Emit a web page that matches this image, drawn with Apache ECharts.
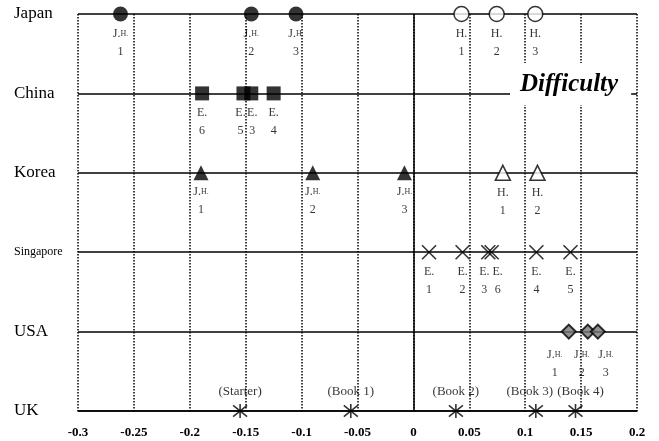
<!DOCTYPE html>
<html><head><meta charset="utf-8">
<script src="https://cdn.jsdelivr.net/npm/echarts@6/dist/echarts.min.js"></script>
<style>html,body{margin:0;padding:0;background:#fff}#c{width:659px;height:441px}</style>
</head><body><div id="c"></div>
<script>
// ---- data ----
const categories = ['UK', 'USA', 'Singapore', 'Korea', 'China', 'Japan'];
const xTicks = { min: -0.3, max: 0.2, interval: 0.05 };

const japanJH = [-0.262, -0.145, -0.105];
const japanJHNums = ['1', '2', '3'];
const japanH = [0.043, 0.0745, 0.109];
const japanHNums = ['1', '2', '3'];

const chinaE = [-0.189, -0.152, -0.145, -0.125];
const chinaENums = ['6', '5', '3', '4'];

const koreaJH = [-0.190, -0.090, -0.008];
const koreaJHNums = ['1', '2', '3'];
const koreaH = [0.080, 0.111];
const koreaHNums = ['1', '2'];

const singaporeE = [0.014, 0.044, 0.067, 0.070, 0.110, 0.1405];
const singaporeENums = ['1', '2', '3', '6', '4', '5'];

const usaJH = [0.139, 0.156, 0.165];
const usaJHNums = ['1', '2', '3'];

const ukBooks = [-0.155, -0.056, 0.038, 0.1095, 0.145];
const ukBookNames = ['(Starter)', '(Book 1)', '(Book 2)', '(Book 3)', '(Book 4)'];

// ---- styling (label nudges for crowded marks) ----
const chinaLabelNudge = [0, -3, 1, 0];
const singaporeLabelNudge = [0, 0, -4, 6, 0, 0];
const usaLabelNudge = [-14, -6, 8];
const ukLabelNudge = [0, 0, 0, -6, 5];

const SERIF = "'Liberation Serif','Times New Roman',serif";
const rich = {
  a: { fontFamily: SERIF, fontSize: 12, color: '#000', lineHeight: 18 },
  b: { fontFamily: SERIF, fontSize: 8, color: '#000', lineHeight: 18 }
};

function build(row, xs, nums, prefix, nudge) {
  return xs.map((x, i) => {
    const item = { value: [x, row], num: nums[i] };
    if (nudge && nudge[i]) item.label = { offset: [nudge[i], 0] };
    return item;
  });
}
function fmt(prefix) {
  return function (p) {
    const n = p.data.num;
    if (prefix === 'J.H.') return '{a|J.}{b|H.}\n{a|' + n + '}';
    return '{a|' + prefix + '}\n{a|' + n + '}';
  };
}
function scatter(name, data, symbol, size, itemStyle, prefix, extra) {
  return Object.assign({
    name: name, type: 'scatter', data: data, symbol: symbol, symbolSize: size,
    itemStyle: itemStyle, z: 5,
    label: { show: true, position: 'bottom', distance: 3, formatter: fmt(prefix), rich: rich, align: 'center' },
    emphasis: { disabled: true }
  }, extra || {});
}

const filled = { color: '#000' };
const open = { color: '#fff', borderColor: '#000', borderWidth: 1.5 };
const stroke = { color: 'rgba(0,0,0,0)', borderColor: '#000', borderWidth: 1.6 };

const series = [
  scatter('Japan J.H.', build('Japan', japanJH, japanJHNums), 'circle', 15, filled, 'J.H.', {
    markLine: {
      silent: true, symbol: 'none', label: { show: false },
      lineStyle: { type: 'solid', color: '#000', width: 1.5 },
      data: [{ xAxis: 0 }]
    }
  }),
  scatter('Japan H.', build('Japan', japanH, japanHNums), 'circle', 15, open, 'H.'),
  scatter('China E.', build('China', chinaE, chinaENums, 'E.', chinaLabelNudge), 'rect', 14, filled, 'E.'),
  scatter('Korea J.H.', build('Korea', koreaJH, koreaJHNums), 'triangle', 15, filled, 'J.H.'),
  scatter('Korea H.', build('Korea', koreaH, koreaHNums), 'triangle', 15, open, 'H.'),
  scatter('Singapore E.', build('Singapore', singaporeE, singaporeENums, 'E.', singaporeLabelNudge),
    'path://M0,0L10,10M10,0L0,10', 14, stroke, 'E.'),
  scatter('USA J.H.', build('USA', usaJH, usaJHNums, 'J.H.', usaLabelNudge), 'diamond', 14,
    { color: '#777', borderColor: '#000', borderWidth: 2 }, 'J.H.', {
      label: { show: true, position: 'bottom', distance: 6, formatter: fmt('J.H.'), rich: rich, align: 'center' }
    }),
  {
    name: 'UK', type: 'scatter', z: 5,
    data: ukBooks.map((x, i) => {
      const item = { value: [x, 'UK'], name: ukBookNames[i] };
      if (ukLabelNudge[i]) item.label = { offset: [ukLabelNudge[i], 0] };
      return item;
    }),
    symbol: 'path://M0,1L10,9M10,1L0,9M5,0L5,10', symbolSize: 14, itemStyle: stroke,
    label: { show: true, position: 'top', distance: 5, formatter: p => p.name,
      fontFamily: SERIF, fontSize: 13, color: '#000' },
    emphasis: { disabled: true }
  }
];

const chart = echarts.init(document.getElementById('c'), null, { renderer: 'canvas' });
chart.setOption({
  animation: false,
  backgroundColor: '#fff',
  title: {
    text: 'Difficulty', left: 510, top: 63,
    backgroundColor: '#fff', padding: [9, 13, 8, 10],
    textStyle: { fontFamily: SERIF, fontSize: 25, fontWeight: 'bold', fontStyle: 'italic', color: '#000' }
  },
  grid: { left: 78, right: 22, top: 14, bottom: 30, containLabel: false },
  xAxis: {
    type: 'value', min: xTicks.min, max: xTicks.max, interval: xTicks.interval,
    axisLine: { show: true, onZero: false, lineStyle: { color: '#000', width: 1.5 } },
    axisTick: { show: false },
    axisLabel: { margin: 15, fontFamily: SERIF, fontSize: 13, fontWeight: 'bold', color: '#000' },
    splitLine: { show: true, lineStyle: { type: 'dotted', color: '#000', width: 1.5 } }
  },
  yAxis: {
    type: 'category', data: categories, boundaryGap: false,
    axisLine: { show: false }, axisTick: { show: false },
    axisLabel: {
      align: 'left', margin: 64, color: '#000',
      formatter: v => v === 'Singapore' ? '{s|' + v + '}' : '{m|' + v + '}',
      rich: {
        m: { fontFamily: SERIF, fontSize: 17, color: '#000' },
        s: { fontFamily: SERIF, fontSize: 12, color: '#000' }
      }
    },
    splitLine: { show: true, lineStyle: { type: 'solid', color: '#000', width: 1.5 } }
  },
  series: series
});
</script>
</body></html>
